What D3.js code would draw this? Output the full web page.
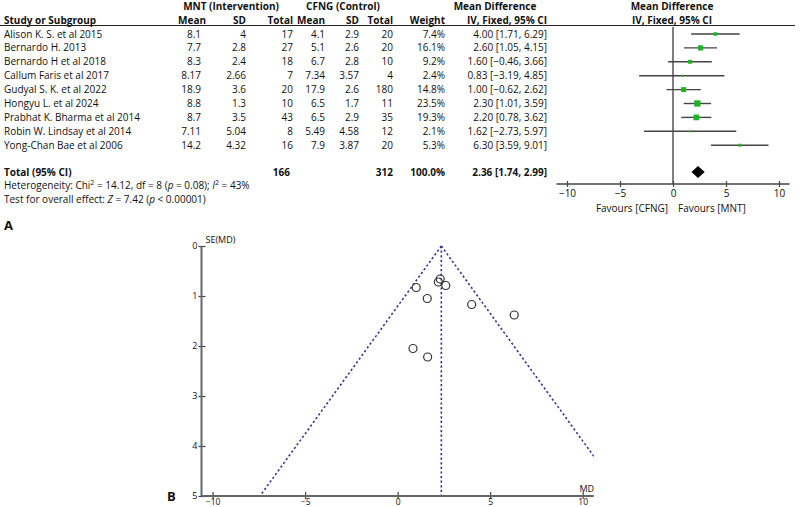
<!DOCTYPE html>
<html>
<head>
<meta charset="utf-8">
<script src="https://cdn.jsdelivr.net/npm/d3@7"></script>
<style>
  body { margin: 0; background: #fff; }
  text { font-family: "Open Sans", sans-serif; fill: #111; }
</style>
</head>
<body>
<div id="chart"></div>
<script>
// data
const studies = ["Alison K. S. et al 2015", "Bernardo H. 2013", "Bernardo H et al 2018",
  "Callum Faris et al 2017", "Gudyal S. K. et al 2022", "Hongyu L. et al 2024",
  "Prabhat K. Bharma et al 2014", "Robin W. Lindsay et al 2014", "Yong-Chan Bae et al 2006"];
const mntMean = ["8.1", "7.7", "8.3", "8.17", "18.9", "8.8", "8.7", "7.11", "14.2"];
const mntSD = ["4", "2.8", "2.4", "2.66", "3.6", "1.3", "3.5", "5.04", "4.32"];
const mntTotal = [17, 27, 18, 7, 20, 10, 43, 8, 16];
const cfngMean = ["4.1", "5.1", "6.7", "7.34", "17.9", "6.5", "6.5", "5.49", "7.9"];
const cfngSD = ["2.9", "2.6", "2.8", "3.57", "2.6", "1.7", "2.9", "4.58", "3.87"];
const cfngTotal = [20, 20, 10, 4, 180, 11, 35, 12, 20];
const weights = [7.4, 16.1, 9.2, 2.4, 14.8, 23.5, 19.3, 2.1, 5.3];
const md = [4.00, 2.60, 1.60, 0.83, 1.00, 2.30, 2.20, 1.62, 6.30];
const ciLow = [1.71, 1.05, -0.46, -3.19, -0.62, 1.01, 0.78, -2.73, 3.59];
const ciHigh = [6.29, 4.15, 3.66, 4.85, 2.62, 3.59, 3.62, 5.97, 9.01];
const seMD = [1.17, 0.79, 1.05, 2.05, 0.83, 0.66, 0.72, 2.22, 1.38];
const total = { mnt: 166, cfng: 312, weight: "100.0%", md: 2.36, low: 1.74, high: 2.99 };
const forestTicks = [-10, -5, 0, 5, 10];
const funnelXTicks = [-10, -5, 0, 5, 10];
const funnelYTicks = [0, 1, 2, 3, 4, 5];

const W = 800, H = 507;
const svg = d3.select("#chart").append("svg").attr("width", W).attr("height", H);
svg.append("rect").attr("width", W).attr("height", H).attr("fill", "#fff");

const fs = 10;
const rowY = i => 34 + i * 13.9;
const fmt2 = d3.format(".2f");
const ciText = (m, l, h) => fmt2(m) + " [" + fmt2(l).replace("-", "\u2212") + ", " + fmt2(h) + "]";
const minus = d => d < 0 ? "\u2212" + Math.abs(d) : d;

// ---------- panel A : table ----------
const tbl = svg.append("g");

function txt(g, x, y, s, anchor, bold) {
  return g.append("text").attr("x", x).attr("y", y + 3.5)
    .attr("font-size", fs).attr("text-anchor", anchor || "start")
    .attr("font-weight", bold ? "bold" : "normal").text(s);
}

txt(tbl, 231, 6, "MNT (Intervention)", "middle", true);
txt(tbl, 343, 6, "CFNG (Control)", "middle", true);
txt(tbl, 495, 6, "Mean Difference", "middle", true);
txt(tbl, 672, 6, "Mean Difference", "middle", true);
txt(tbl, 4, 20, "Study or Subgroup", "start", true);
txt(tbl, 206, 20, "Mean", "end", true);
txt(tbl, 246, 20, "SD", "end", true);
txt(tbl, 293, 20, "Total", "end", true);
txt(tbl, 325, 20, "Mean", "end", true);
txt(tbl, 359, 20, "SD", "end", true);
txt(tbl, 393, 20, "Total", "end", true);
txt(tbl, 445, 20, "Weight", "end", true);
txt(tbl, 547, 20, "IV, Fixed, 95% CI", "end", true);
txt(tbl, 672, 20, "IV, Fixed, 95% CI", "middle", true);

tbl.append("line").attr("x1", 0).attr("x2", 795).attr("y1", 25.5).attr("y2", 25.5)
  .attr("stroke", "#222").attr("stroke-width", 1);

studies.forEach((s, i) => {
  const y = rowY(i);
  txt(tbl, 4, y, s);
  txt(tbl, 201, y, mntMean[i], "end");
  txt(tbl, 246, y, mntSD[i], "end");
  txt(tbl, 293, y, mntTotal[i], "end");
  txt(tbl, 325, y, cfngMean[i], "end");
  txt(tbl, 359, y, cfngSD[i], "end");
  txt(tbl, 393, y, cfngTotal[i], "end");
  txt(tbl, 445, y, weights[i].toFixed(1) + "%", "end");
  txt(tbl, 547, y, ciText(md[i], ciLow[i], ciHigh[i]), "end");
});

const yTot = 172;
txt(tbl, 4, yTot, "Total (95% CI)", "start", true);
txt(tbl, 290, yTot, total.mnt, "end", true);
txt(tbl, 393, yTot, total.cfng, "end", true);
txt(tbl, 445, yTot, total.weight, "end", true);
txt(tbl, 547, yTot, ciText(total.md, total.low, total.high), "end", true);

const het = txt(tbl, 4, 185, "Heterogeneity: Chi");
het.append("tspan").attr("font-size", 7).attr("dy", -4).text("2");
het.append("tspan").attr("dy", 4).text(" = 14.12, df = 8 (");
het.append("tspan").attr("font-style", "italic").text("p");
het.append("tspan").text(" = 0.08); ");
het.append("tspan").attr("font-style", "italic").text("I");
het.append("tspan").attr("font-size", 7).attr("dy", -4).text("2");
het.append("tspan").attr("dy", 4).text(" = 43%");

const ov = txt(tbl, 4, 199, "Test for overall effect: ");
ov.append("tspan").attr("font-style", "italic").text("Z");
ov.append("tspan").text(" = 7.42 (");
ov.append("tspan").attr("font-style", "italic").text("p");
ov.append("tspan").text(" < 0.00001)");

svg.append("text").attr("x", 4).attr("y", 230).attr("font-size", 13)
  .attr("font-weight", "bold").text("A");

// ---------- panel A : forest plot ----------
const fx = d3.scaleLinear().domain([-10, 10]).range([567, 779]);
const axisY = 184;
const fg = svg.append("g");

fg.append("line").attr("x1", fx(0)).attr("x2", fx(0)).attr("y1", 27).attr("y2", axisY)
  .attr("stroke", "#555").attr("stroke-width", 1.5);

fg.selectAll(".ci").data(studies).join("line")
  .attr("x1", (d, i) => fx(ciLow[i])).attr("x2", (d, i) => fx(ciHigh[i]))
  .attr("y1", (d, i) => rowY(i)).attr("y2", (d, i) => rowY(i))
  .attr("stroke", "#444").attr("stroke-width", 1.4);

fg.selectAll(".box").data(studies).join("rect")
  .attr("x", (d, i) => fx(md[i]) - 0.65 * Math.sqrt(weights[i]))
  .attr("y", (d, i) => rowY(i) - 0.65 * Math.sqrt(weights[i]))
  .attr("width", (d, i) => 1.3 * Math.sqrt(weights[i]))
  .attr("height", (d, i) => 1.3 * Math.sqrt(weights[i]))
  .attr("fill", "#1fb426");

fg.append("path")
  .attr("d", "M" + fx(total.low) + "," + yTot + "L" + fx(total.md) + "," + (yTot - 6) +
    "L" + fx(total.high) + "," + yTot + "L" + fx(total.md) + "," + (yTot + 6) + "Z")
  .attr("fill", "#000");

const fAxis = fg.append("g").attr("transform", "translate(0," + axisY + ")")
  .call(d3.axisBottom(fx).tickValues(forestTicks).tickSize(3).tickSizeOuter(0).tickFormat(minus));
fAxis.select(".domain").remove();
fAxis.append("line").attr("x1", fx(-11)).attr("x2", fx(11)).attr("stroke", "#444").attr("stroke-width", 1.5);
fAxis.selectAll(".tick line").attr("y1", -3).attr("stroke", "#444").attr("stroke-width", 1.2);
fAxis.selectAll(".tick text").attr("font-size", fs).attr("font-family", "Open Sans, sans-serif")
  .attr("fill", "#111").attr("y", 6).attr("dy", "0.71em");

txt(fg, fx(0) - 5, 208, "Favours [CFNG]", "end");
txt(fg, fx(0) + 5, 208, "Favours [MNT]", "start");

// ---------- panel B : funnel plot ----------
const px = d3.scaleLinear().domain([-10, 10]).range([212.6, 582.7]);
const py = d3.scaleLinear().domain([0, 5]).range([246, 496]);
const pg = svg.append("g");
const xMin = -10.6, xMax = 10.6;

svg.append("defs").append("clipPath").attr("id", "fclip").append("rect")
  .attr("x", px(xMin)).attr("y", py(0) - 2).attr("width", px(xMax) - px(xMin)).attr("height", py(5) - py(0) + 2);

const dash = { stroke: "#3b2f9e", w: 1.6, da: "2.2,2.4" };
const fun = pg.append("g").attr("clip-path", "url(#fclip)");
[-1.96, 1.96].forEach(z => {
  fun.append("line")
    .attr("x1", px(total.md)).attr("y1", py(0))
    .attr("x2", px(total.md + z * 5)).attr("y2", py(5))
    .attr("stroke", dash.stroke).attr("stroke-width", dash.w).attr("stroke-dasharray", dash.da);
});
fun.append("line").attr("x1", px(total.md)).attr("x2", px(total.md))
  .attr("y1", py(0)).attr("y2", py(5))
  .attr("stroke", dash.stroke).attr("stroke-width", dash.w).attr("stroke-dasharray", dash.da);

pg.selectAll(".pt").data(studies).join("circle")
  .attr("cx", (d, i) => px(md[i])).attr("cy", (d, i) => py(seMD[i])).attr("r", 4)
  .attr("fill", "none").attr("stroke", "#333").attr("stroke-width", 1.2);

// y axis
const yAx = pg.append("g").attr("transform", "translate(" + px(xMin) + ",0)")
  .call(d3.axisLeft(py).tickValues(funnelYTicks).tickSize(3).tickSizeOuter(0).tickFormat(d3.format("d")));
yAx.select(".domain").remove();
yAx.append("line").attr("y1", py(0)).attr("y2", py(5)).attr("stroke", "#666").attr("stroke-width", 2);
yAx.selectAll(".tick line").attr("x2", 4).attr("x1", -3).attr("stroke", "#444").attr("stroke-width", 1.2);
yAx.selectAll(".tick text").attr("font-size", 9).attr("font-family", "Open Sans, sans-serif")
  .attr("fill", "#111").attr("x", -4);

// x axis
const xAx = pg.append("g").attr("transform", "translate(0," + py(5) + ")")
  .call(d3.axisBottom(px).tickValues(funnelXTicks).tickSize(3).tickSizeOuter(0).tickFormat(minus));
xAx.select(".domain").remove();
xAx.append("line").attr("x1", px(xMin)).attr("x2", px(xMax)).attr("stroke", "#666").attr("stroke-width", 2);
xAx.selectAll(".tick line").attr("y1", -4).attr("stroke", "#444").attr("stroke-width", 1.2);
xAx.selectAll(".tick text").attr("font-size", 8.5).attr("font-family", "Open Sans, sans-serif")
  .attr("fill", "#111").attr("y", 3).attr("dy", "0.7em");

pg.append("text").attr("x", px(xMin) + 4).attr("y", py(0) - 3).attr("font-size", 9).text("SE(MD)");
pg.append("text").attr("x", px(10) + 4).attr("y", py(5) - 4).attr("font-size", 9)
  .attr("text-anchor", "middle").text("MD");

svg.append("text").attr("x", 167).attr("y", 501).attr("font-size", 13)
  .attr("font-weight", "bold").text("B");
</script>
</body>
</html>
